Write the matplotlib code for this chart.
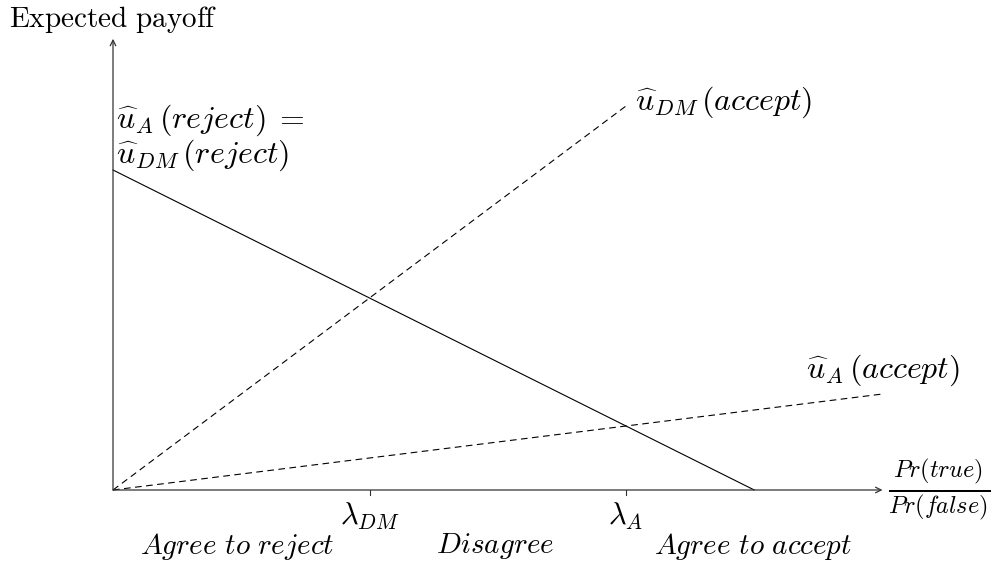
import matplotlib
matplotlib.use("Agg")
import matplotlib.pyplot as plt

plt.rcParams['mathtext.fontset'] = 'cm'

# values (x in units of lambda_DM, y arbitrary payoff units)
reject_x = [0, 2.5]
reject_y = [5, 0]
dm_accept_x = [0, 2]
dm_accept_y = [0, 6]
a_accept_x = [0, 3]
a_accept_y = [0, 1.5]
thresholds = [1.0, 2.0]
threshold_labels = [r'$\lambda_{DM}$', r'$\lambda_A$']
regions = [r'$Agree\ to\ reject$', r'$Disagree$', r'$Agree\ to\ accept$']
region_x = [0.485, 1.49, 2.495]

fig = plt.figure(figsize=(9.97, 5.65), dpi=100)
ax = fig.add_axes([0, 0, 1, 1])
ax.set_xlim(-113 / 256.5, (997 - 113) / 256.5)
ax.set_ylim(-75 / 64, 490 / 64)
ax.axis('off')

# axes with arrows
arrow = dict(arrowstyle='->', lw=0.9, color='#333333', shrinkA=0, shrinkB=0)
ax.annotate('', xy=(3.0, 0), xytext=(0, 0), arrowprops=arrow)
ax.annotate('', xy=(0, 7.05), xytext=(0, 0), arrowprops=arrow)

# payoff lines
ax.plot(reject_x, reject_y, color='black', lw=0.8)
ax.plot(dm_accept_x, dm_accept_y, color='black', lw=0.8, dashes=(6, 4))
ax.plot(a_accept_x, a_accept_y, color='black', lw=0.8, dashes=(6, 4))

# thresholds
for t, lab in zip(thresholds, threshold_labels):
    ax.plot([t, t], [-0.08, 0.0], color='#333333', lw=0.8)
    ax.text(t, -0.42, lab, ha='center', va='center', fontsize=22)

for x, lab in zip(region_x, regions):
    ax.text(x, -0.88, lab, ha='center', va='center', fontsize=21)

ax.text(0, 7.23, r'$\mathrm{Expected\ payoff}$', ha='center', va='baseline', fontsize=21)
ax.text(3.02, 0, r'$\frac{Pr(true)}{Pr(false)}$', ha='left', va='center', fontsize=25)

ax.text(0.01, 5.66, r'$\widehat{u}_A\,(reject)\;=$', ha='left', va='baseline', fontsize=23)
ax.text(0.01, 5.11, r'$\widehat{u}_{DM}\,(reject)$', ha='left', va='baseline', fontsize=23)
ax.text(2.035, 5.94, r'$\widehat{u}_{DM}\,(accept)$', ha='left', va='baseline', fontsize=23)
ax.text(2.70, 1.75, r'$\widehat{u}_A\,(accept)$', ha='left', va='baseline', fontsize=23)

fig.savefig('out.png', dpi=100)
